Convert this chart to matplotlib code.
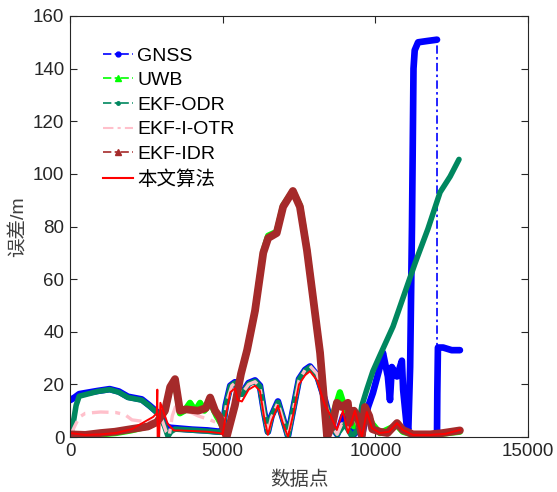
"""Positioning error of six methods along the data points."""
import matplotlib
matplotlib.use('Agg')
import matplotlib.pyplot as plt
from matplotlib.lines import Line2D

plt.rcParams['font.family'] = ['Liberation Sans', 'Noto Sans CJK SC']

GNSS_X = [0, 150, 300, 900, 1300, 1600, 1900, 2350, 2600, 2950, 3100, 3200, 3300, 3500,
          4000, 4500, 4900, 5000, 5100, 5250, 5400, 5630, 5850, 6060, 6220, 6350, 6480,
          6600, 6810, 6950, 7140, 7300, 7500, 7700, 7860, 8090, 8350, 8580, 8750, 8950,
          9100, 9270, 9400, 9560, 9760, 9920, 10150, 10250, 10410, 10480, 10540, 10710,
          10870, 10910, 11030, 11080, 11140, 11200, 11250, 11290, 11400, 11700, 12020,
          12020, 12030, 12050, 12220, 12500, 12770]
GNSS_Y = [14, 15, 16.3, 17.5, 18.2, 17.3, 15.3, 14.3, 12, 8.5, 5, 3.8, 3.5, 3.3,
          2.8, 2.5, 2, 3, 12, 19.5, 20.8, 16.5, 20.5, 21.5, 19.5, 10, 2,
          8, 13.5, 8, 0.5, 10, 22, 25.5, 26.8, 23.5, 14, 4, 1, 8,
          7.6, 0.5, 3, 0.5, 11.4, 16.7, 26.6, 32, 23, 14, 26.6, 23,
          29, 18, 4, 2.7, 26.6, 80, 140, 147, 150, 150.5, 151,
          1.5, 17, 34, 34, 33, 33]
GNSS_BREAK = 63  # index where the plateau drops straight down

UWB_X = [0, 500, 1000, 1500, 2000, 2550, 2850, 3100, 3280, 3440, 3600, 3750, 3930, 4100,
         4260, 4400, 4600, 4800, 4950, 5130, 5400, 5600, 5800, 6060, 6330, 6490, 6770,
         6980, 7300, 7530, 7760, 7960, 8190, 8420, 8600, 8840, 8950, 9100, 9300, 9500,
         9700, 9900, 10150, 10700, 10900, 11200, 12000, 12770]
UWB_Y = [0.5, 1, 1, 1.5, 2.5, 4, 5.5, 9.5, 18.5, 21.5, 9, 10, 13, 10,
         13, 10, 13, 8, 5, 0.5, 12, 24, 33, 48, 70.5, 76.5, 78,
         88, 93.5, 88, 71.5, 53, 32, 1, 8, 17, 13, 9, 4, 8,
         10, 5, 1.5, 4.5, 2, 1, 1, 2]

ODR_X = [0, 100, 200, 300, 900, 1300, 1600, 1900, 2350, 2600, 2950, 3100, 3210, 3300,
         3440, 4000, 4500, 4900, 5000, 5100, 5250, 5400, 5630, 5850, 6060, 6220, 6350,
         6480, 6600, 6810, 6950, 7140, 7300, 7500, 7700, 7860, 8090, 8350, 8580, 8750,
         9000, 9230, 9430, 9560, 9720, 9920, 10150, 10580, 10910, 11300, 11720, 12120,
         12450, 12740]
ODR_Y = [0.3, 5, 12, 15.5, 17.3, 18, 17, 15, 14, 11.8, 8.2, 4, 0.3, 2,
         3, 2.6, 2.2, 1.8, 2.5, 11.5, 19.3, 20.5, 16.2, 20.2, 21.2, 19.2, 9.8,
         1.8, 7.8, 13.2, 7.8, 0.3, 9.8, 21.8, 25.2, 26.5, 23.2, 13.8, 3.8, 1,
         5, 0.3, 2.7, 12, 18, 25, 31, 42, 53, 66, 79, 93,
         99, 105.5]

OTR_X = [0, 150, 300, 500, 1000, 1500, 1800, 2030, 2550, 2880, 3000, 3150, 3250, 3350,
         3500, 3830, 4200, 4590, 4900, 5000, 5150, 5300, 5400, 5630, 5850, 6060, 6220,
         6350, 6480, 6600, 6810, 6950, 7140, 7300, 7500, 7700, 7860, 8090, 8350, 8580,
         8750, 8900, 9100, 9300, 9500, 9700, 9900, 10150, 10700, 10900, 11200, 12000, 12770]
OTR_Y = [0.3, 4, 7.5, 9, 9.5, 9.3, 8.5, 6.5, 5.7, 6.5, 7, 2, 0.5, 8,
         13, 10, 8, 6.5, 5, 3, 14, 19.5, 20.5, 16.5, 20, 21, 19,
         9.5, 1.5, 7.5, 13, 7.5, 0.3, 9.5, 21.5, 25.5, 27, 24, 14, 4,
         1, 5, 3, 8, 2, 5, 2, 1.5, 4.5, 2, 0.8, 1, 2.5]

IDR_X = [0, 500, 1000, 1470, 2000, 2550, 2850, 3110, 3280, 3440, 3600, 3800, 4200, 4450,
         4590, 4750, 4900, 5130, 5400, 5600, 5800, 6060, 6330, 6490, 6770, 6980, 7300,
         7530, 7760, 7960, 8190, 8420, 8600, 8740, 8900, 9100, 9170, 9300, 9430, 9560,
         9660, 9800, 9900, 10150, 10400, 10710, 10900, 11230, 11800, 12200, 12770]
IDR_Y = [1, 0.8, 1.5, 2, 3, 4, 5.7, 10, 19, 22, 10, 10.5, 10, 11,
         15, 10, 7.6, 0, 12, 24, 33, 48, 70, 75.6, 77.5, 87.5, 93.5,
         87.5, 71, 53, 32, 0, 5, 13, 11.4, 13, 5.3, 10, 7.6, 0.5,
         11.4, 8, 3, 2, 1.5, 5.3, 2.7, 1, 1, 1.5, 2.5]

OURS_X = [0, 500, 1000, 1500, 2030, 2550, 2720, 2840, 2860, 2870, 2920, 2960, 3200, 3400,
          3600, 4500, 4900, 5000, 5100, 5250, 5400, 5500, 5630, 5850, 6060, 6220, 6350,
          6480, 6600, 6810, 6950, 7140, 7300, 7500, 7700, 7860, 8090, 8350, 8500, 8740,
          8940, 9100, 9330, 9560, 9720, 9890, 10150, 10450, 10710, 10900, 11230, 11800,
          12300, 12770]
OURS_Y = [1.5, 0.8, 1, 1.5, 3, 6.5, 7.6, 9, 18, 0, 0, 13, 5, 2.5,
          2.5, 2, 1.5, 1, 8, 17, 18.5, 14, 13.5, 18, 19.5, 17.5, 8,
          0.8, 6, 12, 6, 0, 8, 20, 23.5, 25, 21.5, 12, 9, 2.7,
          10, 1.5, 10, 0, 9.5, 3.4, 1.5, 2, 5.3, 2.7, 0.8, 0.8,
          1.2, 2.7]

LABELS = ['GNSS', 'UWB', 'EKF-ODR', 'EKF-I-OTR', 'EKF-IDR', '本文算法']

BLUE = '#0000ff'
LIME = '#00ff00'
TEAL = '#00875f'
PINK = '#ffc0cb'
BROWN = '#a52a2a'
RED = '#ff0000'
DASHDOT = (0, (5, 2, 1.5, 2))

if __name__ == '__main__':
    fig = plt.figure(figsize=(5.57, 4.92), dpi=100)
    ax = fig.add_axes([70 / 557, 55 / 492, 458 / 557, 421 / 492])

    kw = dict(solid_joinstyle='round', solid_capstyle='round')
    ax.plot(GNSS_X[:GNSS_BREAK], GNSS_Y[:GNSS_BREAK], color=BLUE, lw=4.8, **kw)
    ax.plot(GNSS_X[GNSS_BREAK:], GNSS_Y[GNSS_BREAK:], color=BLUE, lw=4.8, **kw)
    ax.plot(GNSS_X, GNSS_Y, color=BLUE, lw=1.2, linestyle=DASHDOT)
    ax.plot(UWB_X, UWB_Y, color=LIME, lw=4.5, **kw)
    ax.plot(ODR_X, ODR_Y, color=TEAL, lw=4.0, **kw)
    ax.plot(OTR_X, OTR_Y, color=PINK, lw=2.4, linestyle=DASHDOT)
    ax.plot(IDR_X, IDR_Y, color=BROWN, lw=5.6, **kw)
    ax.plot(OURS_X, OURS_Y, color=RED, lw=1.4)

    ax.set_xlim(0, 15000)
    ax.set_ylim(0, 160)
    ax.set_xticks([0, 5000, 10000, 15000])
    ax.set_yticks(range(0, 161, 20))
    ax.tick_params(direction='in', length=5, width=0.8, top=True, right=True,
                   labelsize=13.5, colors='#262626', pad=4)
    for sp in ax.spines.values():
        sp.set_linewidth(0.8)
        sp.set_color('#262626')
    ax.set_xlabel('数据点', fontsize=14, color='#404040', labelpad=8)
    ax.set_ylabel('误差/m', fontsize=14, color='#404040', labelpad=4)

    handles = [
        Line2D([], [], color=BLUE, lw=1.2, linestyle=DASHDOT, marker='o', markersize=3.5),
        Line2D([], [], color=LIME, lw=1.2, linestyle=DASHDOT, marker='^', markersize=4),
        Line2D([], [], color=TEAL, lw=1.2, linestyle=DASHDOT, marker='o', markersize=2.5),
        Line2D([], [], color=PINK, lw=1.5, linestyle=DASHDOT),
        Line2D([], [], color=BROWN, lw=1.2, linestyle=DASHDOT, marker='^', markersize=5),
        Line2D([], [], color=RED, lw=1.5),
    ]
    ax.legend(handles, LABELS, loc='upper left', bbox_to_anchor=(103 / 557, 1 - 47 / 492),
              bbox_transform=fig.transFigure, frameon=False, fontsize=14,
              handlelength=1.55, handletextpad=0.2, labelspacing=0.36,
              borderpad=0, borderaxespad=0)

    fig.savefig('out.png', dpi=100)
    plt.close(fig)
